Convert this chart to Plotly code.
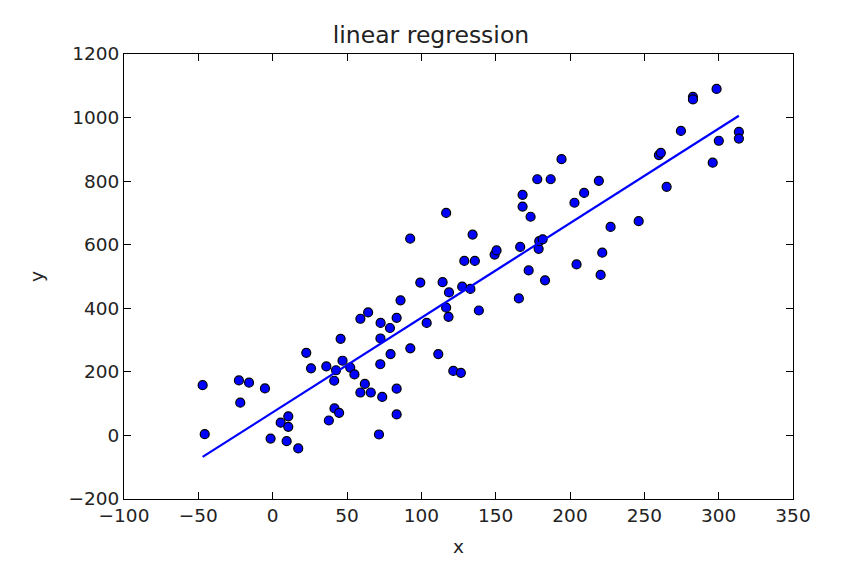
import numpy as np
import plotly.graph_objs as go

# points
x_vals = [-47.1, -45.7, -22.7, -21.8, -15.9, -5.2, -1.4, 5.4, 10.5, 10.5,
          9.4, 17.2, 22.6, 25.8, 36.1, 37.8, 41.6, 44.7, 41.4, 42.6,
          45.7, 47.0, 52.2, 55.0, 62.0, 59.0, 66.0, 73.7, 71.5, 83.4,
          83.4, 72.4, 79.3, 72.5, 78.9, 72.6, 83.4, 59.0, 64.2, 86.0,
          92.6, 92.5, 99.3, 103.6, 111.4, 114.3, 118.6, 116.7, 118.3, 121.5,
          126.6, 116.7, 128.9, 136.0, 134.5, 127.5, 133.0, 138.7, 149.3, 150.6,
          165.6, 166.5, 172.2, 178.9, 179.3, 181.6, 183.2, 168.1, 168.1, 173.5,
          178.0, 187.0, 194.3, 203.0, 209.5, 219.4, 204.4, 220.6, 221.7, 227.3,
          246.2, 259.8, 261.1, 265.0, 274.6, 282.7, 282.7, 298.6, 300.1, 296.0,
          313.6, 313.6]
y_vals = [158, 4, 173, 103, 166, 148, -10, 40, 60, 27,
          -18, -41, 260, 211, 217, 47, 85, 71, 172, 205,
          304, 235, 213, 192, 162, 135, 135, 121, 3, 66,
          147, 224, 256, 305, 338, 354, 370, 367, 387, 425,
          274, 619, 481, 354, 256, 482, 450, 402, 373, 203,
          197, 700, 549, 549, 632, 468, 461, 393, 569, 582,
          431, 593, 519, 587, 611, 617, 488, 757, 720, 688,
          806, 806, 869, 732, 763, 801, 538, 505, 575, 656,
          674, 882, 889, 782, 958, 1065, 1057, 1090, 927, 858,
          955, 934]

x_ticks = [-100, -50, 0, 50, 100, 150, 200, 250, 300, 350]
y_ticks = [-200, 0, 200, 400, 600, 800, 1000, 1200]

# least squares line through the data
slope, intercept = np.polyfit(x_vals, y_vals, 1)
fit_x = [min(x_vals), max(x_vals)]
fit_y = [slope * v + intercept for v in fit_x]

fig = go.Figure()

fig.add_trace(go.Scatter(
    x=x_vals,
    y=y_vals,
    mode='markers',
    marker=dict(color='#0000ff', size=9, line=dict(color='black', width=1.2)),
    showlegend=False
))

fig.add_trace(go.Scatter(
    x=fit_x,
    y=fit_y,
    mode='lines',
    line=dict(color='#0000ff', width=2.2),
    showlegend=False
))

axis_style = dict(
    showgrid=False,
    zeroline=False,
    showline=True,
    linecolor='black',
    linewidth=1,
    mirror='ticks',
    ticks='inside',
    ticklen=7,
    tickcolor='black',
    tickfont=dict(size=18.5, color='#222222'),
)

# page body adds ~8px offset, so the figure is a bit smaller than the window
fig.update_layout(
    width=846,
    height=564,
    margin=dict(l=116, r=61, t=46, b=73),
    paper_bgcolor='white',
    plot_bgcolor='white',
    font=dict(family='DejaVu Sans', color='#222222'),
    title=dict(text='linear regression', x=0.5, xanchor='center',
               y=0.952, yanchor='middle', font=dict(size=23.5)),
    xaxis=dict(range=[-100, 350], tickvals=x_ticks,
               title=dict(text='x', font=dict(size=18.5), standoff=14), **axis_style),
    yaxis=dict(range=[-200, 1200], tickvals=y_ticks,
               title=dict(text='y', font=dict(size=18.5), standoff=20), **axis_style),
)

fig.write_html("out.html")
